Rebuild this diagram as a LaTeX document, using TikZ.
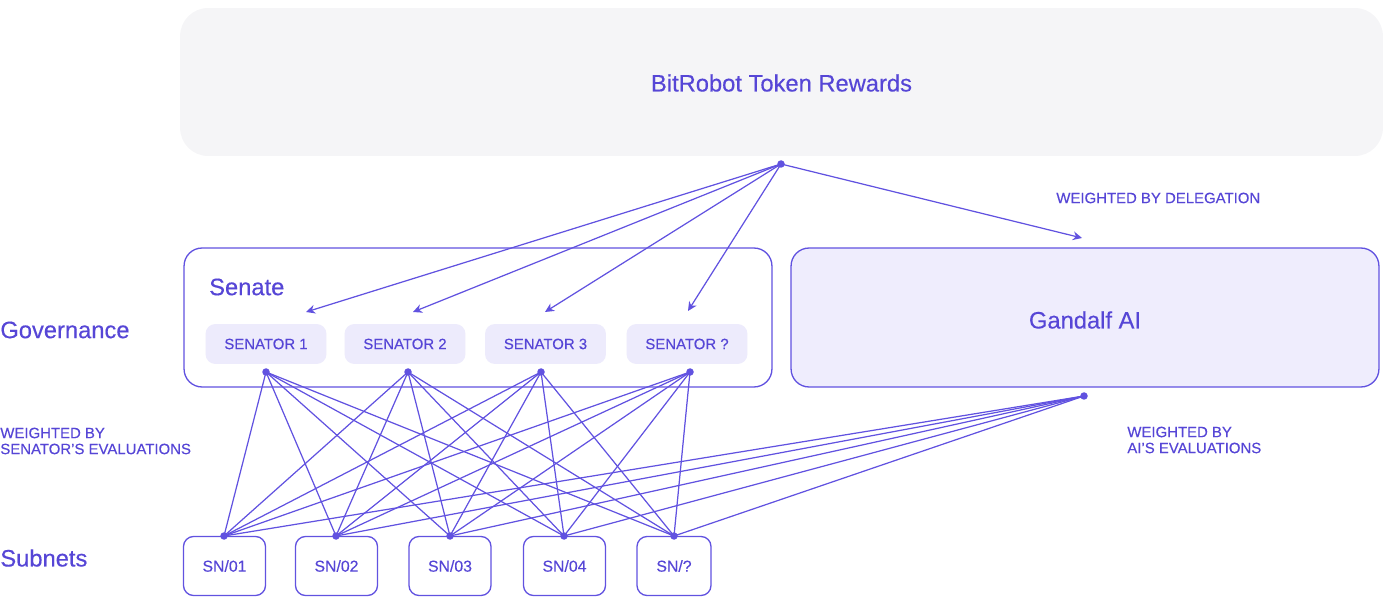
\documentclass[tikz,border=0pt]{standalone}
\usepackage{fontspec}
\setmainfont{Liberation Sans}[FakeBold=0.35]
\usetikzlibrary{arrows.meta}
\definecolor{ink}{HTML}{5646D6}
\definecolor{wire}{HTML}{6152E0}
\definecolor{topfill}{HTML}{F5F5F7}
\definecolor{lav}{HTML}{EDEBFC}
\definecolor{lav2}{HTML}{EFEDFD}
\tikzset{
  big/.style={text=ink, font=\fontsize{13.5}{16}\selectfont},
  small/.style={text=ink, font=\fontsize{8.5}{9.1}\selectfont, align=left},
  bigbox/.style={draw=wire, line width=0.75pt, rounded corners=0.36cm, minimum width=11.76cm, minimum height=2.78cm, inner sep=0},
  senbox/.style={fill=lav, rounded corners=0.2cm, minimum width=2.42cm, minimum height=0.8cm, inner sep=0, text=ink, font=\fontsize{8.5}{9.1}\selectfont},
  snbox/.style={draw=wire, line width=0.75pt, rounded corners=0.2cm, minimum width=1.64cm, minimum height=1.18cm, inner sep=0, text=ink, font=\fontsize{9}{10}\selectfont},
  wireline/.style={draw=wire, line width=0.7pt},
  arr/.style={wireline, -{Stealth[length=5.2pt,width=5pt]}},
  dot/.style={circle, fill=wire, inner sep=0, minimum size=0.15cm}
}
\begin{document}
\begin{tikzpicture}[x=0.02cm,y=-0.02cm]
\useasboundingbox (0,0) rectangle (1392,597);
% top box
\node[fill=topfill, rounded corners=0.56cm, minimum width=24.06cm, minimum height=2.96cm, inner sep=0] (top) at (781.5,82) {};
\node[big] (toptext) at (781.5,83) {BitRobot Token Rewards};
% senate and gandalf
\node[bigbox, fill=white] (senate) at (478,317.5) {};
\node[big, anchor=west] (senatelbl) at (203,287) {Senate};
\node[bigbox, fill=lav2] (gandalf) at (1085,317.5) {};
\node[big] (gandalftxt) at (1085,320) {Gandalf AI};
% senators
\node[senbox] (s1) at (266,344) {SENATOR 1};
\node[senbox] (s2) at (405,344) {SENATOR 2};
\node[senbox] (s3) at (545.5,344) {SENATOR 3};
\node[senbox] (s4) at (687,344) {SENATOR ?};
% subnets
\node[snbox] (n1) at (224.5,566) {SN/01};
\node[snbox] (n2) at (336.5,566) {SN/02};
\node[snbox] (n3) at (450,566) {SN/03};
\node[snbox] (n4) at (564.5,566) {SN/04};
\node[snbox, minimum width=1.48cm] (n5) at (674,566) {SN/?};
% labels
\node[big, anchor=west, inner sep=0] (gov) at (0,330) {Governance};
\node[big, anchor=west, inner sep=0] (subn) at (0,558) {Subnets};
\node[small, anchor=west, inner sep=0] (wsen) at (0,441) {WEIGHTED BY\\SENATOR'S EVALUATIONS};
\node[small, anchor=west, inner sep=0] (wai) at (1127,440) {WEIGHTED BY\\AI'S EVALUATIONS};
\node[small, anchor=west, inner sep=0] (wdel) at (1056,198) {WEIGHTED BY DELEGATION};
% coordinates
\coordinate (hub) at (781,164);
\coordinate (t1) at (306,312);
\coordinate (t2) at (413,312);
\coordinate (t3) at (545,312);
\coordinate (t4) at (688,311);
\coordinate (tg) at (1082,238);
\coordinate (d1) at (266,372);
\coordinate (d2) at (408,372);
\coordinate (d3) at (541,372);
\coordinate (d4) at (690,372);
\coordinate (g) at (1084,396);
\coordinate (b1) at (224,536);
\coordinate (b2) at (336,536);
\coordinate (b3) at (450,536);
\coordinate (b4) at (564,536);
\coordinate (b5) at (674,536);
% arrows
\foreach \t in {t1,t2,t3,t4,tg} \draw[arr] (hub) -- (\t);
% senator to subnet lines
\foreach \d in {d1,d2,d3,d4,g}
  \foreach \b in {b1,b2,b3,b4,b5}
    \draw[wireline] (\d) -- (\b);
% dots
\foreach \p in {hub,d1,d2,d3,d4,g,b1,b2,b3,b4,b5}
  \node[dot] at (\p) {};
\end{tikzpicture}
\end{document}
